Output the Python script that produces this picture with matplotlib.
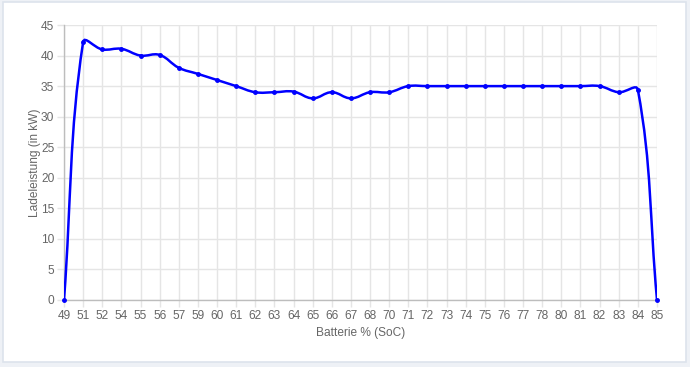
"""
Ladeleistung over Batterie SoC, drawn like a Chart.js line chart.
"""
import numpy as np
import matplotlib
matplotlib.use('Agg')
import matplotlib.pyplot as plt
from matplotlib.path import Path
from matplotlib.patches import PathPatch, Rectangle

# data
soc = ['49', '51', '52', '54', '55', '56', '57', '59', '60', '61', '62', '63',
       '64', '65', '66', '67', '68', '70', '71', '72', '73', '74', '75', '76',
       '77', '78', '80', '81', '82', '83', '84', '85']
power = [0, 42.2, 41, 41.1, 40, 40.1, 38, 37, 36, 35, 34, 34,
         34.1, 33, 34, 33, 34, 34, 35, 35, 35, 35, 35, 35,
         35, 35, 35, 35, 35, 34, 34.4, 0]
y_ticks = [0, 5, 10, 15, 20, 25, 30, 35, 40, 45]

W, H = 690, 367
plt.rcParams['font.family'] = ['Liberation Sans', 'DejaVu Sans']

fig = plt.figure(figsize=(W / 100, H / 100), dpi=100, facecolor='#eef1f6')
# white card with a light border, behind everything
fig.patches.append(Rectangle((3 / W, 1 - 362 / H), 683 / W, 360 / H,
                             transform=fig.transFigure, facecolor='white',
                             edgecolor='#dde3ec', lw=1.2, zorder=-10))

x0, x1, ytop, ybot = 64, 657, 25, 300
ax = fig.add_axes([x0 / W, 1 - ybot / H, (x1 - x0) / W, (ybot - ytop) / H])
ax.set_facecolor('none')

n = len(soc)
xs = np.arange(n, dtype=float)
ys = np.array(power, dtype=float)
ax.set_xlim(0, n - 1)
ax.set_ylim(0, 45)

# Chart.js style spline (tension 0.4), computed in pixel space
sx = (x1 - x0) / (n - 1)
sy = (ybot - ytop) / 45.0
P = np.column_stack([xs * sx, ys * sy])
t = 0.4
cp_prev = np.zeros_like(P)
cp_next = np.zeros_like(P)
for i in range(n):
    a = P[i - 1] if i > 0 else P[i]
    b = P[i]
    c = P[i + 1] if i < n - 1 else P[i]
    d01 = np.hypot(*(b - a))
    d12 = np.hypot(*(c - b))
    tot = d01 + d12
    s01 = d01 / tot if tot else 0
    s12 = d12 / tot if tot else 0
    cp_prev[i] = b - t * s01 * (c - a)
    cp_next[i] = b + t * s12 * (c - a)
# cap inside chart area
for cp in (cp_prev, cp_next):
    cp[:, 0] = np.clip(cp[:, 0], 0, (n - 1) * sx)
    cp[:, 1] = np.clip(cp[:, 1], 0, 45 * sy)

verts = [tuple(P[0])]
codes = [Path.MOVETO]
for i in range(n - 1):
    verts += [tuple(cp_next[i]), tuple(cp_prev[i + 1]), tuple(P[i + 1])]
    codes += [Path.CURVE4] * 3
verts = np.array(verts) / np.array([sx, sy])
ax.add_patch(PathPatch(Path(verts, codes), facecolor='none',
                       edgecolor='#0000ff', lw=1.8, zorder=3, capstyle='round'))
ax.plot(xs, ys, 'o', color='#0000ff', ms=2.5, zorder=4, clip_on=False)

# grid and axes
ax.set_xticks(xs)
ax.set_xticklabels(soc)
ax.set_yticks(y_ticks)
ax.grid(True, color='#e5e5e5', lw=1)
ax.set_axisbelow(True)
for side in ('top', 'right'):
    ax.spines[side].set_visible(False)
for side in ('left', 'bottom'):
    ax.spines[side].set_color('#bdbdbd')
    ax.spines[side].set_linewidth(1)
ax.tick_params(axis='both', colors='#e5e5e5', labelcolor='#666666',
               labelsize=8.6, length=5, width=1)
ax.tick_params(axis='y', pad=2)
ax.tick_params(axis='x', pad=2)

ax.set_xlabel('Batterie % (SoC)', fontsize=8.6, color='#666666', labelpad=4)
ax.set_ylabel('Ladeleistung (in kW)', fontsize=8.6, color='#666666', labelpad=0)

fig.savefig('out.png', dpi=100, facecolor=fig.get_facecolor())
